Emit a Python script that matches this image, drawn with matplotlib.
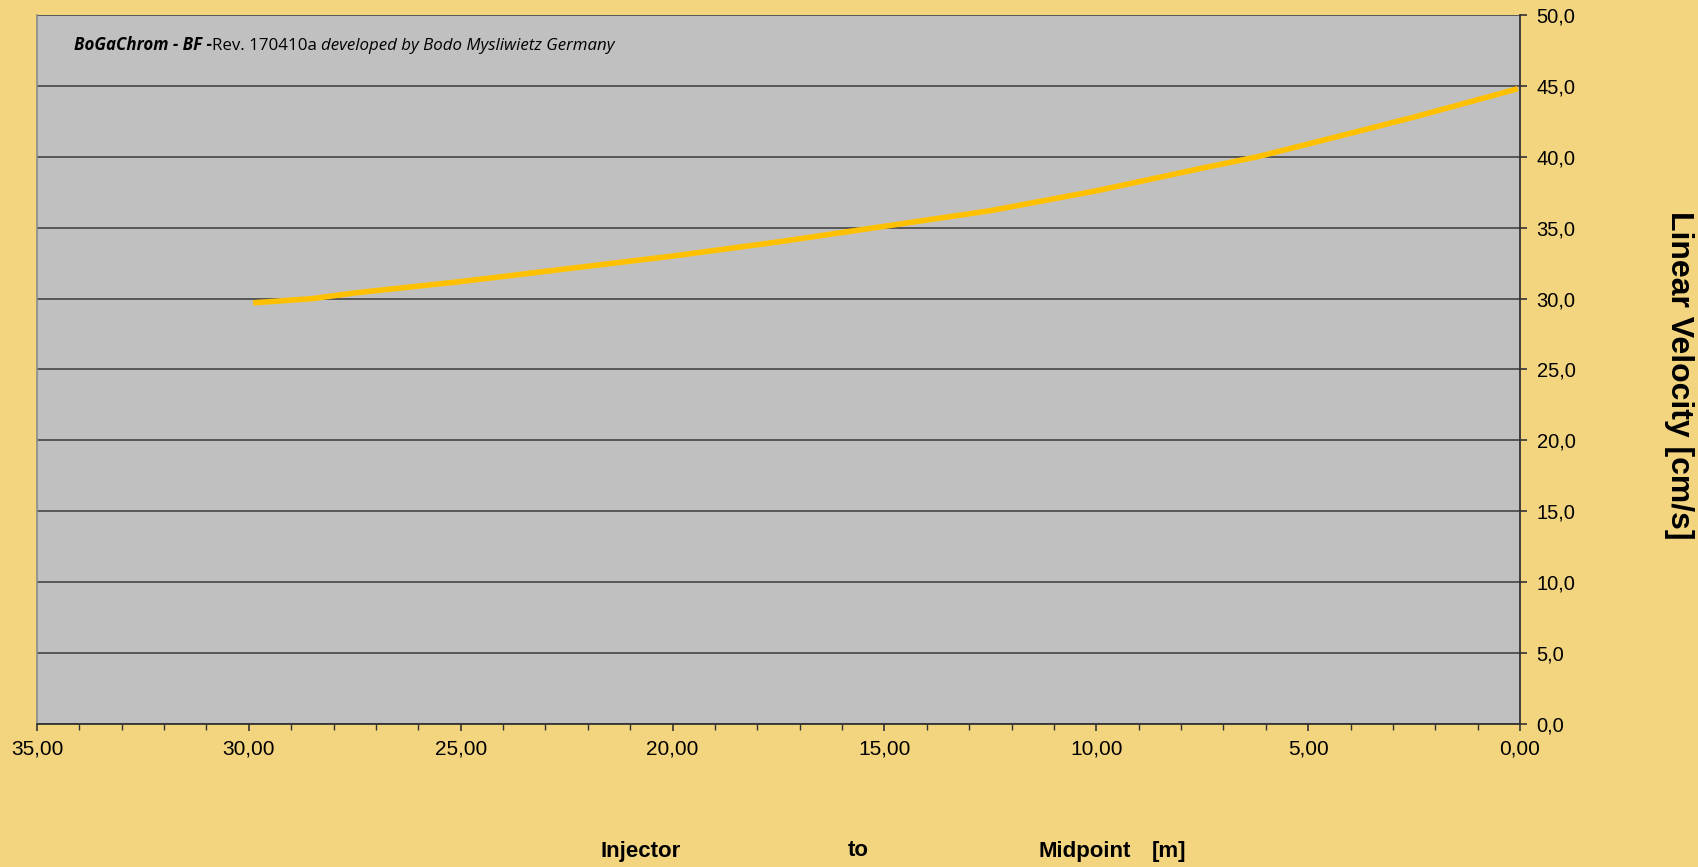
import matplotlib
matplotlib.use('Agg')
from matplotlib import pyplot as plt
from matplotlib.ticker import MultipleLocator, FuncFormatter

# distance from midpoint [m] and linear velocity [cm/s]
distancia = [29.9, 28.5, 27.5, 25.0, 22.5, 20.0, 17.5, 15.0, 12.5, 10.0, 7.5, 6.2, 5.0, 2.5, 0.05]
velocidade = [29.7, 30.0, 30.4, 31.2, 32.1, 33.0, 34.0, 35.1, 36.2, 37.6, 39.2, 40.0, 40.9, 42.8, 44.8]

xlabel_partes = ['Injector', 'to', 'Midpoint', '[m]']
xlabel_pos = [601, 848, 1038, 1152]  # left edge, pixels

fundo = '#F3D580'
area = '#C0C0C0'
linha = '#FFC000'

plt.rcParams['font.family'] = ['Liberation Sans', 'DejaVu Sans']

fig = plt.figure(figsize=(16.99, 8.67), dpi=100, facecolor=fundo)
W, H = 1699, 867
ax = fig.add_axes([37 / W, 1 - 724 / H, (1520 - 37) / W, (724 - 15) / H])
ax.set_facecolor(area)

ax.plot(distancia, velocidade, color=linha, lw=4.0, solid_capstyle='butt', zorder=3)

ax.set_xlim(35, 0)
ax.set_ylim(0, 50)
ax.xaxis.set_major_locator(MultipleLocator(5))
ax.xaxis.set_minor_locator(MultipleLocator(1))
ax.yaxis.set_major_locator(MultipleLocator(5))
ax.xaxis.set_major_formatter(FuncFormatter(lambda v, p: ('%.2f' % abs(v)).replace('.', ',')))
ax.yaxis.set_major_formatter(FuncFormatter(lambda v, p: ('%.1f' % v).replace('.', ',')))

ax.yaxis.tick_right()
ax.grid(axis='y', color='#3a3a3a', lw=1.1)
ax.set_axisbelow(True)

ax.tick_params(axis='x', which='major', length=5, width=1.2, color='#333333', labelsize=15, pad=6)
ax.tick_params(axis='x', which='minor', length=4, width=1.0, color='#333333')
ax.tick_params(axis='y', which='major', length=5, width=1.2, color='#333333', labelsize=14.5, pad=7)

ax.spines['top'].set_visible(False)
ax.spines['left'].set_color('#8a8a8a')
ax.spines['left'].set_linewidth(1.2)
ax.spines['right'].set_color('#333333')
ax.spines['bottom'].set_color('#333333')
ax.spines['right'].set_linewidth(1.3)
ax.spines['bottom'].set_linewidth(1.3)

# titulo do eixo y
fig.text(1679 / W, 1 - 375 / H, 'Linear Velocity [cm/s]', rotation=-90, fontsize=23,
         fontweight='bold', ha='center', va='center')

# titulo do eixo x, em partes
for txt, xp in zip(xlabel_partes, xlabel_pos):
    fig.text(xp / W, 1 - 851 / H, txt, fontsize=16, fontweight='bold', ha='left', va='center')

# texto de versao dentro do grafico
partes = [('BoGaChrom - BF -', 'bold', 'italic'),
          ('Rev. 170410a ', 'normal', 'normal'),
          ('developed by Bodo Mysliwietz Germany', 'normal', 'italic')]
fig.canvas.draw()
r = fig.canvas.get_renderer()
x0 = 74
for txt, peso, estilo in partes:
    t = fig.text(x0 / W, 1 - 50 / H, txt, fontsize=12.2, fontweight=peso, fontstyle=estilo,
                 family='Open Sans', ha='left', va='baseline')
    bb = t.get_window_extent(renderer=r)
    x0 = bb.x1

fig.savefig('out.png', dpi=100, facecolor=fundo)
